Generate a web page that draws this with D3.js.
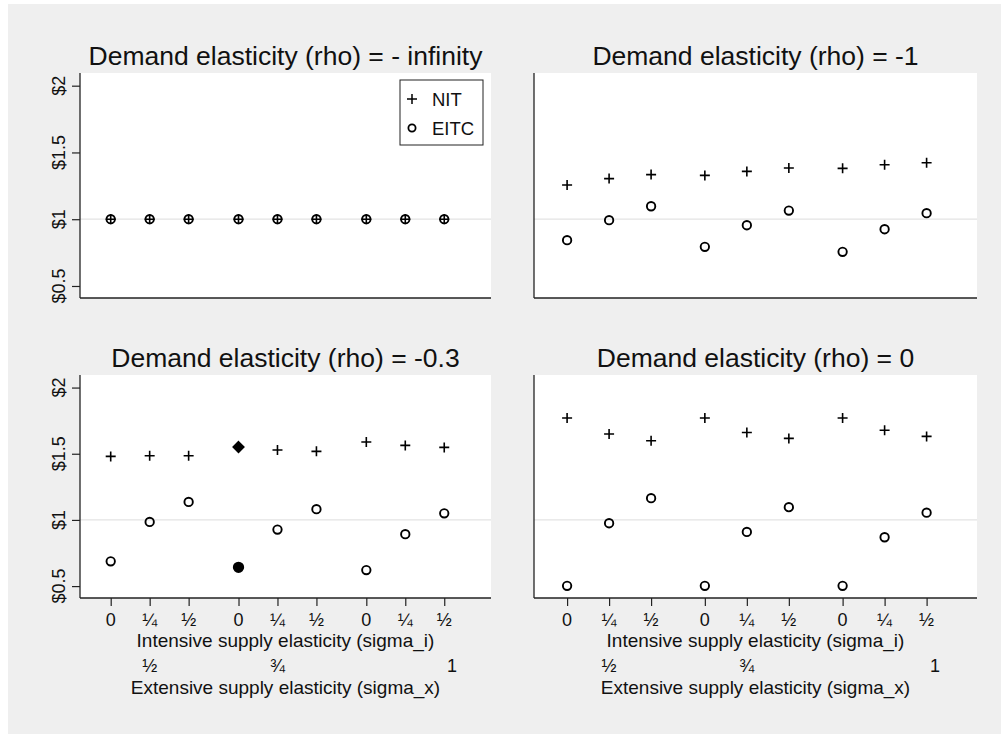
<!DOCTYPE html>
<html>
<head>
<meta charset="utf-8">
<script src="https://cdn.jsdelivr.net/npm/d3@7"></script>
<style>
  html, body { margin: 0; padding: 0; background: #ffffff; }
  svg { display: block; }
  text { font-family: "Liberation Sans", Arial, sans-serif; fill: #111; }
</style>
</head>
<body>
<svg id="chart" width="1001" height="734"></svg>
<script>
// ---------- data ----------
const sigmaX = [0.5, 0.75, 1];               // extensive supply elasticity groups
const sigmaXLabels = ["½", "¾", "1"];
const sigmaXLabelAt = [0.25, 1.07, 2.19];      // secondary-axis label values (x units)
const sigmaI = [0, 0.25, 0.5];                 // intensive supply elasticity
const sigmaILabels = ["0", "¼", "½"];
const groupSpacing = 0.82;                     // x units between sigma_x groups

const yTicks = [0.5, 1, 1.5, 2];
const yTickLabels = ["$0.5", "$1", "$1.5", "$2"];

const panelTitles = [
  "Demand elasticity (rho) = - infinity",
  "Demand elasticity (rho) = -1",
  "Demand elasticity (rho) = -0.3",
  "Demand elasticity (rho) = 0"
];

// order: sigma_x = ½ (i=0,¼,½), ¾ (...), 1 (...)
const nitRhoInf  = [1, 1, 1, 1, 1, 1, 1, 1, 1];
const eitcRhoInf = [1, 1, 1, 1, 1, 1, 1, 1, 1];
const nitRho1    = [1.256, 1.304, 1.334, 1.328, 1.358, 1.383, 1.381, 1.408, 1.423];
const eitcRho1   = [0.843, 0.993, 1.097, 0.793, 0.955, 1.065, 0.756, 0.925, 1.045];
const nitRho03   = [1.480, 1.485, 1.485, 1.551, 1.528, 1.518, 1.589, 1.563, 1.548];
const eitcRho03  = [0.687, 0.985, 1.136, 0.642, 0.927, 1.081, 0.621, 0.892, 1.050];
const nitRho0    = [1.770, 1.649, 1.598, 1.770, 1.661, 1.616, 1.770, 1.677, 1.631];
const eitcRho0   = [0.502, 0.975, 1.164, 0.502, 0.909, 1.096, 0.502, 0.869, 1.055];

const nitSeries  = [nitRhoInf, nitRho1, nitRho03, nitRho0];
const eitcSeries = [eitcRhoInf, eitcRho1, eitcRho03, eitcRho0];
// highlighted (baseline) case: panel rho=-0.3, sigma_x=¾, sigma_i=0
const highlight = { panel: 2, index: 3 };

const legendLabels = ["NIT", "EITC"];

// ---------- layout ----------
const svg = d3.select("#chart");
svg.append("rect").attr("x", 8).attr("y", 4).attr("width", 993).attr("height", 730).attr("fill", "#efefef");

const cols = [[80, 491], [534, 977]];
const rows = [[73, 298], [375, 598]];
const xDomain = [-0.197, 2.44];
const yDomain = [0.41, 2.095];

function pointsFor(vals) {
  const pts = [];
  sigmaX.forEach((sx, g) => {
    sigmaI.forEach((si, j) => {
      pts.push({ pos: si + groupSpacing * g, v: vals[g * sigmaI.length + j], idx: g * sigmaI.length + j });
    });
  });
  return pts;
}

const plusPath = "M-5,0H5M0,-5V5";
const diamondPath = "M0,-5.3L5.3,0L0,5.3L-5.3,0Z";

panelTitles.forEach((title, p) => {
  const r = Math.floor(p / 2), c = p % 2;
  const [x0, x1] = cols[c], [y0, y1] = rows[r];
  const x = d3.scaleLinear().domain(xDomain).range([x0, x1]);
  const y = d3.scaleLinear().domain(yDomain).range([y1, y0]);
  const g = svg.append("g");

  g.append("rect").attr("x", x0).attr("y", y0).attr("width", x1 - x0).attr("height", y1 - y0).attr("fill", "#ffffff");

  g.append("line").attr("x1", x0).attr("x2", x1).attr("y1", y(1)).attr("y2", y(1))
    .attr("stroke", "#e3e3e3").attr("stroke-width", 1.3);

  const yAxis = g.append("g").attr("transform", `translate(${x0},0)`)
    .call(d3.axisLeft(y).tickValues(c === 0 ? yTicks : []).tickSize(c === 0 ? 8 : 0).tickFormat(() => ""));
  yAxis.select(".domain").attr("d", `M0,${y0}V${y1}`).attr("stroke", "#222").attr("stroke-width", 1.3);
  yAxis.selectAll(".tick line").attr("stroke", "#222").attr("stroke-width", 1.2);
  if (c === 0) {
    g.selectAll(".ylab").data(yTicks).enter().append("text")
      .attr("transform", d => `translate(${x0 - 15},${y(d)}) rotate(-90)`)
      .attr("text-anchor", "middle").attr("font-size", 18)
      .text((d, i) => yTickLabels[i]);
  }

  const pts = pointsFor(nitSeries[p]);
  const xAxis = g.append("g").attr("transform", `translate(0,${y1})`)
    .call(d3.axisBottom(x).tickValues(r === 1 ? pts.map(d => d.pos) : []).tickSize(r === 1 ? 8 : 0).tickFormat(() => ""));
  xAxis.select(".domain").attr("d", `M${x0},0H${x1}`).attr("stroke", "#222").attr("stroke-width", 1.3);
  xAxis.selectAll(".tick line").attr("stroke", "#222").attr("stroke-width", 1.2);

  if (r === 1) {
    g.selectAll(".xlab").data(pts).enter().append("text")
      .attr("x", d => x(d.pos)).attr("y", 626)
      .attr("text-anchor", "middle").attr("font-size", 18)
      .text((d, i) => sigmaILabels[i % sigmaI.length]);
    g.append("text").attr("x", (x0 + x1) / 2).attr("y", 647).attr("text-anchor", "middle")
      .attr("font-size", 19).text("Intensive supply elasticity (sigma_i)");
    g.selectAll(".x2lab").data(sigmaXLabelAt).enter().append("text")
      .attr("x", d => x(d)).attr("y", 672)
      .attr("text-anchor", "middle").attr("font-size", 18)
      .text((d, i) => sigmaXLabels[i]);
    g.append("text").attr("x", (x0 + x1) / 2).attr("y", 694).attr("text-anchor", "middle")
      .attr("font-size", 19).text("Extensive supply elasticity (sigma_x)");
  }

  g.append("text").attr("x", (x0 + x1) / 2).attr("y", r === 0 ? 65 : 367)
    .attr("text-anchor", "middle").attr("font-size", 26.5).text(title);

  const eitcPts = pointsFor(eitcSeries[p]);
  g.selectAll(".eitc").data(eitcPts).enter().append("circle")
    .attr("cx", d => x(d.pos)).attr("cy", d => y(d.v))
    .attr("r", d => (p === highlight.panel && d.idx === highlight.index) ? 4.7 : 4.2)
    .attr("fill", d => (p === highlight.panel && d.idx === highlight.index) ? "#000" : "none")
    .attr("stroke", "#000").attr("stroke-width", 1.9);

  g.selectAll(".nit").data(pts).enter().append("path")
    .attr("transform", d => `translate(${x(d.pos)},${y(d.v)})`)
    .attr("d", d => (p === highlight.panel && d.idx === highlight.index) ? diamondPath : plusPath)
    .attr("fill", d => (p === highlight.panel && d.idx === highlight.index) ? "#000" : "none")
    .attr("stroke", "#000").attr("stroke-width", 1.6);

  if (p === 0) {
    const lg = g.append("g");
    lg.append("rect").attr("x", 400).attr("y", 80).attr("width", 83).attr("height", 65)
      .attr("fill", "#fff").attr("stroke", "#222").attr("stroke-width", 1);
    lg.append("path").attr("transform", "translate(412,99)").attr("d", plusPath)
      .attr("fill", "none").attr("stroke", "#000").attr("stroke-width", 1.5);
    lg.append("circle").attr("cx", 412).attr("cy", 128).attr("r", 3.6)
      .attr("fill", "none").attr("stroke", "#000").attr("stroke-width", 1.8);
    lg.selectAll(".lt").data(legendLabels).enter().append("text")
      .attr("x", 432).attr("y", (d, i) => 106 + i * 29)
      .attr("font-size", 18.5).text(d => d);
  }
});
</script>
</body>
</html>
